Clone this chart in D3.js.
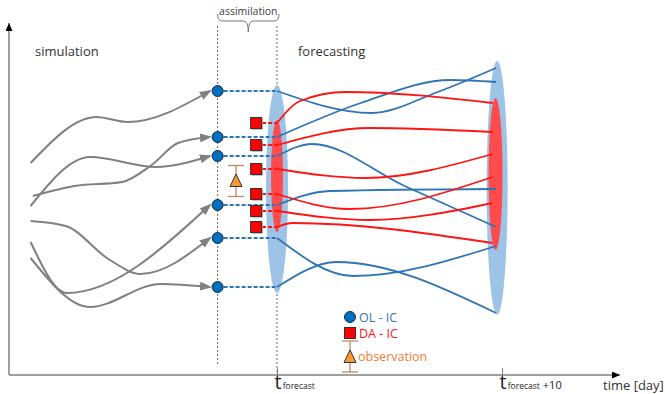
<!DOCTYPE html>
<html>
<head>
<meta charset="utf-8">
<script src="https://cdn.jsdelivr.net/npm/d3@7"></script>
<style>
  body { margin: 0; background: #fff; }
  text { font-family: "Open Sans", sans-serif; }
</style>
</head>
<body>
<svg id="chart" width="665" height="394"></svg>
<script>
// time in days (0 = t_forecast), state in arbitrary units
const assimilationWindow = [-2.64, 0];
const forecastTicks = [0, 10];
const tickSubs = ["forecast", "forecast"];
const tickSuffix = ["", "+10"];

// initial conditions at the end of the assimilation window
const olIC = [284, 238, 219, 170, 137, 88];
const daIC = [252, 230, 206, 181, 164, 148];
const daDay = -0.93;
const obsDay = -1.82;
const obsValue = 194;
const obsError = 15.5;

// open loop simulation runs leading to the OL initial conditions
const simulationRuns = [
  [[-10.95, 212], [-8.02, 258], [-6.65, 253], [-2.98, 284]],
  [[-10.95, 169], [-8.31, 218], [-5.38, 208], [-2.98, 219]],
  [[-10.85, 179], [-9.0, 189], [-6.89, 193], [-5.57, 210], [-4.4, 232], [-2.98, 238]],
  [[-10.95, 154], [-9.39, 149], [-7.43, 115], [-6.06, 101], [-2.98, 137]],
  [[-10.95, 133], [-9.34, 82], [-2.98, 170]],
  [[-10.95, 117], [-8.31, 68], [-5.18, 91], [-2.98, 88]]
];

// forecasts started from OL and DA initial conditions
const olForecast = [
  [[0, 284], [4.2, 262], [7.14, 283], [9.73, 307]],
  [[0, 238], [3.72, 272], [7.72, 295], [9.73, 293]],
  [[0, 219], [1.56, 231], [5.67, 189], [9.73, 148]],
  [[0, 170], [2.35, 184], [9.73, 186]],
  [[0, 137], [3.37, 99], [9.73, 129]],
  [[0, 88], [2.64, 113], [9.73, 62]]
];
const daForecast = [
  [[0, 252], [1.03, 274], [3.03, 283], [9.58, 272]],
  [[0, 230], [4.11, 247], [9.58, 243]],
  [[0, 206], [3.91, 197], [9.58, 221]],
  [[0, 181], [3.23, 166], [9.58, 198]],
  [[0, 164], [4.11, 155], [9.58, 172]],
  [[0, 148], [0.68, 152], [9.58, 132]]
];

// ensemble spread at t_forecast and t_forecast+10
const olSpreadDays = [0, 9.78];
const olSpreadMid = [186, 187];
const olSpreadHalf = [104, 127];
const daSpreadDays = [0, 9.71];
const daSpreadMid = [199, 201];
const daSpreadHalf = [56, 76];

const olRx = [11, 10.5];
const daRx = [6, 7];

const blue = "#2e75b6";
const red = "#ff1414";
const gray = "#808080";

const svg = d3.select("#chart");
const x = d3.scaleLinear().domain([-11.91, 15.24]).range([9, 620]);
const y = d3.scaleLinear().domain([0, 352]).range([375, 23]);
const line = d3.line().x(d => x(d[0])).y(d => y(d[1])).curve(d3.curveMonotoneX);

const defs = svg.append("defs");
function arrow(id, color, w, h, ref) {
  defs.append("marker")
    .attr("id", id)
    .attr("viewBox", `0 0 ${w} ${h}`)
    .attr("refX", ref)
    .attr("refY", h / 2)
    .attr("markerWidth", w)
    .attr("markerHeight", h)
    .attr("markerUnits", "userSpaceOnUse")
    .attr("orient", "auto")
    .append("path")
    .attr("d", `M0,0L${w},${h / 2}L0,${h}Z`)
    .attr("fill", color);
}
arrow("grayArrow", gray, 12, 9, 10);
arrow("axisArrow", "#000", 8, 7, 8);

defs.append("filter")
  .attr("id", "soft")
  .attr("x", "-50%").attr("width", "200%")
  .attr("y", "-10%").attr("height", "120%")
  .append("feGaussianBlur").attr("stdDeviation", 0.45);

// dotted guides
svg.append("g").selectAll("line")
  .data(assimilationWindow)
  .join("line")
  .attr("x1", d => x(d)).attr("x2", d => x(d))
  .attr("y1", 26)
  .attr("y2", (d, i) => (i ? y(0) : 366))
  .attr("stroke", "#666")
  .attr("stroke-width", 1)
  .attr("stroke-dasharray", "2,2");

// brace over the assimilation window
const bx0 = x(assimilationWindow[0]);
const bx1 = x(assimilationWindow[1]) + 2;
const bxm = (bx0 + bx1) / 2;
svg.append("path")
  .attr("d", `M${bx0},14Q${bx0},21 ${bx0 + 5},21H${bxm - 5}Q${bxm},21 ${bxm},32Q${bxm},21 ${bxm + 5},21H${bx1 - 5}Q${bx1},21 ${bx1},14`)
  .attr("fill", "none")
  .attr("stroke", "#777")
  .attr("stroke-width", 1);
svg.append("text")
  .attr("x", bxm).attr("y", 15)
  .attr("text-anchor", "middle")
  .attr("font-size", 10.5)
  .attr("fill", "#404040")
  .text("assimilation");

svg.append("text").attr("x", 35).attr("y", 56).attr("font-size", 13).attr("fill", "#333").text("simulation");
svg.append("text").attr("x", 298).attr("y", 56).attr("font-size", 13).attr("fill", "#333").text("forecasting");

// spread ellipses
svg.append("g").selectAll("ellipse")
  .data(olSpreadDays)
  .join("ellipse")
  .attr("cx", d => x(d))
  .attr("cy", (d, i) => y(olSpreadMid[i]))
  .attr("rx", (d, i) => olRx[i])
  .attr("ry", (d, i) => y(0) - y(olSpreadHalf[i]))
  .attr("fill", "#9dc3e6")
  .attr("filter", "url(#soft)");
svg.append("g").selectAll("ellipse")
  .data(daSpreadDays)
  .join("ellipse")
  .attr("cx", d => x(d))
  .attr("cy", (d, i) => y(daSpreadMid[i]))
  .attr("rx", (d, i) => daRx[i])
  .attr("ry", (d, i) => y(0) - y(daSpreadHalf[i]))
  .attr("fill", "#ff4b4b")
  .attr("filter", "url(#soft)");

// forecast trajectories
svg.append("g").selectAll("path")
  .data(olForecast)
  .join("path")
  .attr("d", line)
  .attr("fill", "none")
  .attr("stroke", blue)
  .attr("stroke-width", 1.8);
svg.append("g").selectAll("path")
  .data(daForecast)
  .join("path")
  .attr("d", line)
  .attr("fill", "none")
  .attr("stroke", red)
  .attr("stroke-width", 1.8);

// dashed connectors to t_forecast
svg.append("g").selectAll("line")
  .data(olIC)
  .join("line")
  .attr("x1", x(assimilationWindow[0])).attr("x2", x(0))
  .attr("y1", d => y(d)).attr("y2", d => y(d))
  .attr("stroke", blue)
  .attr("stroke-width", 2)
  .attr("stroke-dasharray", "4,2");
svg.append("g").selectAll("line")
  .data(daIC)
  .join("line")
  .attr("x1", x(daDay)).attr("x2", x(0))
  .attr("y1", d => y(d)).attr("y2", d => y(d))
  .attr("stroke", red)
  .attr("stroke-width", 2)
  .attr("stroke-dasharray", "4,2");

// simulation runs
svg.append("g").selectAll("path")
  .data(simulationRuns)
  .join("path")
  .attr("d", line)
  .attr("fill", "none")
  .attr("stroke", gray)
  .attr("stroke-width", 2)
  .attr("marker-end", "url(#grayArrow)");

// OL initial conditions
svg.append("g").selectAll("circle")
  .data(olIC)
  .join("circle")
  .attr("cx", x(assimilationWindow[0]))
  .attr("cy", d => y(d))
  .attr("r", 5.5)
  .attr("fill", "#0070c0")
  .attr("stroke", "#1a2b44")
  .attr("stroke-width", 1);

// DA initial conditions
const sq = 11;
const daG = svg.append("g");
daG.selectAll("rect.shadow")
  .data(daIC)
  .join("rect")
  .attr("class", "shadow")
  .attr("x", x(daDay) - sq / 2 + 1.2)
  .attr("y", d => y(d) - sq / 2 + 1.2)
  .attr("width", sq).attr("height", sq)
  .attr("fill", "#aaa");
daG.selectAll("rect.box")
  .data(daIC)
  .join("rect")
  .attr("class", "box")
  .attr("x", x(daDay) - sq / 2)
  .attr("y", d => y(d) - sq / 2)
  .attr("width", sq).attr("height", sq)
  .attr("fill", "#ff0000")
  .attr("stroke", "#333")
  .attr("stroke-width", 1);

// observation with error bar
function obsMark(g, cx, cy, top, bottom) {
  g.append("line").attr("x1", cx).attr("x2", cx).attr("y1", top).attr("y2", bottom)
    .attr("stroke", "#b88a6a").attr("stroke-width", 1.3);
  [top, bottom].forEach(v => {
    g.append("line").attr("x1", cx - 8).attr("x2", cx + 8).attr("y1", v).attr("y2", v)
      .attr("stroke", "#b88a6a").attr("stroke-width", 1.3);
  });
  g.append("path")
    .attr("d", `M${cx},${cy - 7}L${cx + 6},${cy + 5.5}L${cx - 6},${cy + 5.5}Z`)
    .attr("fill", "#f79a34")
    .attr("stroke", "#333")
    .attr("stroke-width", 1);
}
obsMark(svg.append("g"), x(obsDay), y(obsValue), y(obsValue + obsError), y(obsValue - obsError));

// legend
const lg = svg.append("g");
lg.append("circle").attr("cx", 350).attr("cy", 317).attr("r", 5.5)
  .attr("fill", "#0070c0").attr("stroke", "#1a2b44");
lg.append("text").attr("x", 359).attr("y", 321.5).attr("font-size", 12.5).attr("fill", blue).text("OL - IC");
lg.append("rect").attr("x", 350 - sq / 2).attr("y", 333 - sq / 2).attr("width", sq).attr("height", sq)
  .attr("fill", "#ff0000").attr("stroke", "#333");
lg.append("text").attr("x", 359).attr("y", 337.5).attr("font-size", 12.5).attr("fill", red).text("DA - IC");
obsMark(lg, 350, 357, 341, 372);
lg.append("text").attr("x", 358).attr("y", 361).attr("font-size", 12.5).attr("fill", "#ed7d31").text("observation");

// axes
svg.append("line")
  .attr("x1", x.range()[0]).attr("x2", x.range()[1])
  .attr("y1", y(0)).attr("y2", y(0))
  .attr("stroke", gray).attr("stroke-width", 1.5)
  .attr("marker-end", "url(#axisArrow)");
svg.append("line")
  .attr("x1", x.range()[0]).attr("x2", x.range()[0])
  .attr("y1", y(0)).attr("y2", y.range()[1])
  .attr("stroke", gray).attr("stroke-width", 1.5)
  .attr("marker-end", "url(#axisArrow)");

const tickG = svg.append("g")
  .attr("transform", `translate(0,${y(0)})`)
  .call(d3.axisBottom(x).tickValues(forecastTicks).tickSizeInner(-7).tickSizeOuter(0).tickFormat(""));
tickG.select(".domain").remove();
tickG.selectAll(".tick line").attr("stroke", gray).attr("stroke-width", 1);

const lbl = svg.append("g").selectAll("text")
  .data(forecastTicks)
  .join("text")
  .attr("x", d => x(d) - 2.5)
  .attr("y", 389)
  .attr("fill", "#222");
lbl.append("tspan").attr("font-size", 20).text("t");
lbl.append("tspan").attr("font-size", 8.5).attr("dx", 1).text((d, i) => tickSubs[i]);
lbl.append("tspan").attr("font-size", 11).attr("dx", 3).text((d, i) => tickSuffix[i]);

svg.append("text").attr("x", 603).attr("y", 390).attr("font-size", 13).attr("fill", "#333").text("time [day]");
</script>
</body>
</html>
